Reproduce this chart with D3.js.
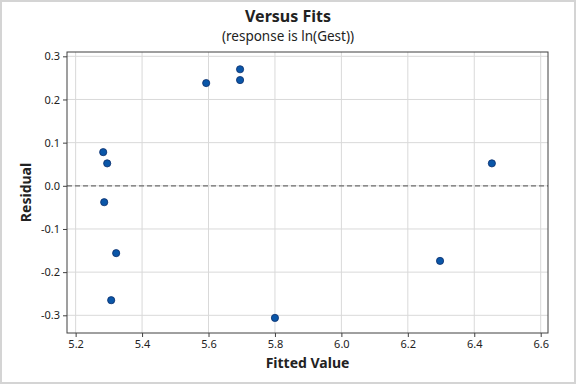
<!DOCTYPE html>
<html>
<head>
<meta charset="utf-8">
<script src="https://cdn.jsdelivr.net/npm/d3@7"></script>
<style>
  body { margin: 0; background: #fff; }
  svg { display: block; font-family: "Noto Sans", "Open Sans", sans-serif; }
</style>
</head>
<body>
<div class="view"></div>
<script>
var width = 576;
var height = 384;

var margin = { top: 52, right: 28, bottom: 51, left: 67 };

// fitted values and residuals
var fitted = [5.283, 5.295, 5.286, 5.322, 5.307, 5.593, 5.695, 5.695, 5.800, 6.453, 6.297];
var residual = [0.078, 0.052, -0.038, -0.156, -0.265, 0.238, 0.270, 0.245, -0.306, 0.052, -0.174];

var xTicks = [5.2, 5.4, 5.6, 5.8, 6.0, 6.2, 6.4, 6.6];
var yTicks = [-0.3, -0.2, -0.1, 0.0, 0.1, 0.2, 0.3];

var svg = d3.select(".view")
    .append("svg")
    .attr("width", width)
    .attr("height", height);

// outer border
svg.append("rect")
    .attr("x", 1).attr("y", 1)
    .attr("width", width - 2).attr("height", height - 2)
    .attr("fill", "#fff")
    .attr("stroke", "#d4d4d4")
    .attr("stroke-width", 2);

var x = d3.scaleLinear()
    .domain([5.174, 6.622])
    .range([margin.left, width - margin.right]);

var y = d3.scaleLinear()
    .domain([-0.341, 0.31])
    .range([height - margin.bottom, margin.top]);

// plain hyphen for negatives, like the original
var fmt = function (d) { return d3.format(".1f")(d).replace("\u2212", "-"); };

// grid
svg.append("g")
    .selectAll("line")
    .data(xTicks)
    .enter().append("line")
    .attr("x1", function (d) { return x(d); })
    .attr("x2", function (d) { return x(d); })
    .attr("y1", y.range()[1])
    .attr("y2", y.range()[0])
    .attr("stroke", "#d9d9d9");

svg.append("g")
    .selectAll("line")
    .data(yTicks)
    .enter().append("line")
    .attr("x1", x.range()[0])
    .attr("x2", x.range()[1])
    .attr("y1", function (d) { return y(d); })
    .attr("y2", function (d) { return y(d); })
    .attr("stroke", "#d9d9d9");

// zero reference line
svg.append("line")
    .attr("x1", x.range()[0])
    .attr("x2", x.range()[1])
    .attr("y1", y(0))
    .attr("y2", y(0))
    .attr("stroke", "#6e6e6e")
    .attr("stroke-width", 1.2)
    .attr("stroke-dasharray", "5,3");

// frame
svg.append("rect")
    .attr("x", x.range()[0])
    .attr("y", y.range()[1])
    .attr("width", x.range()[1] - x.range()[0])
    .attr("height", y.range()[0] - y.range()[1])
    .attr("fill", "none")
    .attr("stroke", "#404040");

// axes
var xAxis = svg.append("g")
    .attr("transform", "translate(0," + y.range()[0] + ")")
    .call(d3.axisBottom(x).tickValues(xTicks).tickSize(4).tickPadding(3)
        .tickFormat(fmt));
xAxis.select(".domain").remove();

var yAxis = svg.append("g")
    .attr("transform", "translate(" + x.range()[0] + ",0)")
    .call(d3.axisLeft(y).tickValues(yTicks).tickSize(4).tickPadding(3)
        .tickFormat(fmt));
yAxis.select(".domain").remove();

svg.selectAll(".tick line").attr("stroke", "#404040");
svg.selectAll(".tick text")
    .attr("fill", "#222")
    .style("font-size", "11px")
    .style("font-family", "'Noto Sans', sans-serif");

// points
svg.append("g")
    .selectAll("circle")
    .data(fitted)
    .enter().append("circle")
    .attr("cx", function (d) { return x(d); })
    .attr("cy", function (d, i) { return y(residual[i]); })
    .attr("r", 3.6)
    .attr("fill", "#0a56a8")
    .attr("stroke", "#0b2d6b")
    .attr("stroke-width", 0.8);

// titles: centred on the page, axis label centred on the plot
svg.append("text")
    .attr("x", width / 2)
    .attr("y", 22)
    .attr("text-anchor", "middle")
    .attr("font-weight", "bold")
    .attr("font-size", 16)
    .attr("fill", "#222")
    .text("Versus Fits");

svg.append("text")
    .attr("x", width / 2)
    .attr("y", 41)
    .attr("text-anchor", "middle")
    .attr("font-size", 13.5)
    .attr("fill", "#222")
    .text("(response is ln(Gest))");

var cx = (x.range()[0] + x.range()[1]) / 2;

svg.append("text")
    .attr("x", cx)
    .attr("y", 368)
    .attr("text-anchor", "middle")
    .attr("font-weight", "bold")
    .attr("font-size", 14)
    .attr("fill", "#222")
    .text("Fitted Value");

svg.append("text")
    .attr("transform", "translate(31," + ((y.range()[0] + y.range()[1]) / 2) + ") rotate(-90)")
    .attr("text-anchor", "middle")
    .attr("font-weight", "bold")
    .attr("font-size", 14)
    .attr("fill", "#222")
    .text("Residual");
</script>
</body>
</html>
